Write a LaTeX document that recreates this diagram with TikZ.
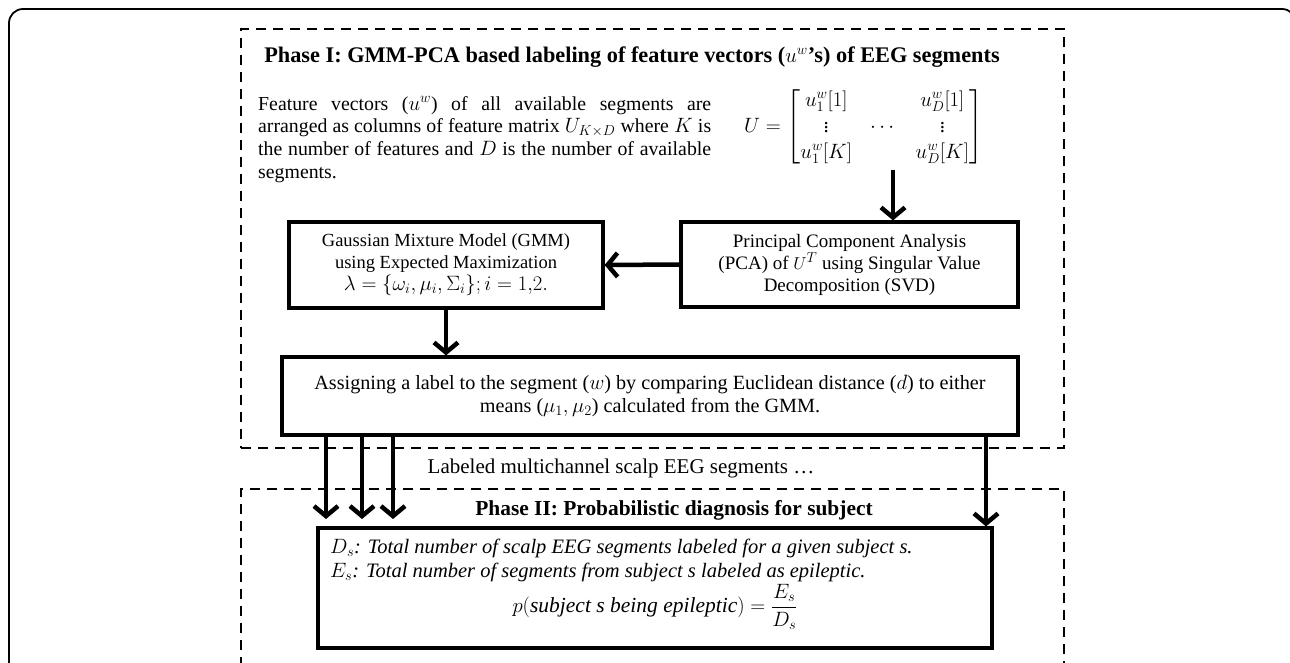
\documentclass[tikz,border=0pt]{standalone}
\usepackage{amsmath}
\usepackage{fontspec}
\setmainfont{Liberation Serif}
\usetikzlibrary{arrows.meta}
\tikzset{
  box/.style={draw, line width=3.2pt, align=center, inner sep=0pt},
  phase/.style={draw, dashed, dash pattern=on 10pt off 7pt, line width=2.4pt, inner sep=0pt},
  arr/.style={line width=4.5pt, -{Straight Barb[length=10pt,width=24pt,line width=4.5pt]}},
  txt/.style={font=\fontsize{18}{22}\selectfont, inner sep=0pt},
  ttl/.style={font=\fontsize{22.3}{26}\selectfont\bfseries, inner sep=0pt},
  itl/.style={inner sep=0pt, anchor=west, font=\fontsize{20.5}{24}\selectfont\itshape},
}
\begin{document}
\begin{tikzpicture}[x=1pt,y=-1pt]
\useasboundingbox (0,0) rectangle (1290,662);
\fill[white] (0,0) rectangle (1290,662);
\draw[line width=1.8pt, rounded corners=14pt] (9,9) rectangle (1296,720);
% phase boxes
\node[phase, minimum width=823pt, minimum height=419pt] (ph1) at (652.5,238.5) {};
\node[phase, minimum width=823pt, minimum height=175pt] (ph2) at (652.5,576.5) {};
\node[ttl] (t1) at (632,57) {Phase I: GMM-PCA based labeling of feature vectors ($u^{w}$'s) of EEG segments};
\node[inner sep=0pt, text width=453pt, align=justify, anchor=north west,
      font=\fontsize{19.8}{22.7}\selectfont] (para) at (258,96)
  {Feature vectors ($u^{w}$) of all available segments are \mbox{arranged} as columns of feature matrix $U_{K\times D}$ where $K$ is the number of \mbox{features} and $D$ is the number of \mbox{available} \mbox{segments.}};
\node[inner sep=0pt, anchor=west, font=\fontsize{21}{26}\selectfont] (mat) at (744,127)
  {$\arraycolsep=9pt U=\begin{bmatrix} u_1^w[1] & & u_D^w[1]\\ \vdots & \cdots & \vdots\\ u_1^w[K] & & u_D^w[K]\end{bmatrix}$};
\coordinate (a1) at (893,170);
\node[box, txt, font=\fontsize{19}{22}\selectfont, minimum width=337pt, minimum height=85pt] (pca) at (849.5,264.5)
  {Principal Component Analysis\\(PCA) of $U^{T}$ using Singular Value\\Decomposition (SVD)};
\node[box, txt, font=\fontsize{18.5}{22}\selectfont, minimum width=314pt, minimum height=86pt] (gmm) at (446,265)
  {Gaussian Mixture Model (GMM)\\using Expected Maximization\\{\fontsize{20.5}{22}\selectfont$\lambda=\{\omega_i,\mu_i,\Sigma_i\}; i=1{,}2.$}};
\node[box, txt, font=\fontsize{20.2}{22.5}\selectfont, minimum width=736pt, minimum height=78pt] (asg) at (650,396)
  {Assigning a label to the segment ($w$) by comparing Euclidean distance ($d$) to either\\means ($\mu_1,\mu_2$) calculated from the GMM.};
\node[txt, font=\fontsize{21}{24}\selectfont] (lab) at (621,468) {Labeled multichannel scalp EEG segments \dots};
\node[ttl, font=\fontsize{21.4}{24}\selectfont\bfseries] (t2) at (674,510) {Phase II: Probabilistic diagnosis for subject};
\node[box, minimum width=674pt, minimum height=120pt] (p2) at (655,588) {};
\node[itl] (l1) at (330,548)
  {$D_s$: Total number of scalp EEG segments labeled for a given subject s.};
\node[itl] (l2) at (330,572)
  {$E_s$: Total number of segments from subject s labeled as epileptic.};
\node[txt, font=\fontsize{21.5}{24}\selectfont] (fm) at (655,607) {$p(\mathit{subject\ s\ being\ epileptic}) = \dfrac{E_s}{D_s}$};
% arrows
\draw[arr] (a1) -- (a1 |- pca.north);
\draw[arr] (pca.west) -- (gmm.east);
\draw[arr] (gmm.south) -- (asg.north -| gmm.south);
\coordinate (e1) at (326,519);
\coordinate (e2) at (362,519);
\coordinate (e3) at (393,519);
\draw[arr] (asg.south -| e1) -- (e1);
\draw[arr] (asg.south -| e2) -- (e2);
\draw[arr] (asg.south -| e3) -- (e3);
\coordinate (e4) at (986,435);
\draw[arr] (e4) -- (e4 |- p2.north);
\end{tikzpicture}
\end{document}
